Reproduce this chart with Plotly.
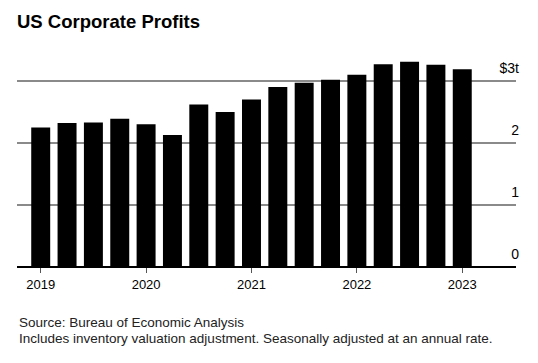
import plotly.graph_objects as go

quarters = ["2019Q1", "2019Q2", "2019Q3", "2019Q4",
            "2020Q1", "2020Q2", "2020Q3", "2020Q4",
            "2021Q1", "2021Q2", "2021Q3", "2021Q4",
            "2022Q1", "2022Q2", "2022Q3", "2022Q4",
            "2023Q1"]
profits_trillions = [2.25, 2.32, 2.33, 2.39, 2.30, 2.13, 2.62, 2.50, 2.70,
                     2.90, 2.97, 3.02, 3.10, 3.27, 3.31, 3.26, 3.19]
year_tick_vals = ["2019Q1", "2020Q1", "2021Q1", "2022Q1", "2023Q1"]
year_tick_text = ["2019", "2020", "2021", "2022", "2023"]
y_tick_vals = [0, 1, 2, 3]
y_tick_text = ["0", "1", "2", "$3t"]

W, H = 538, 363
L, R, T, B = 17, 22, 53, 96
FONT = "Liberation Sans, Arial, sans-serif"

fig = go.Figure()
fig.add_trace(go.Bar(
    x=quarters, y=profits_trillions,
    marker=dict(color="#000000", line=dict(width=0)),
    width=0.72,
    hoverinfo="x+y",
))

fig.update_layout(
    width=W, height=H,
    margin=dict(l=L, r=R, t=T, b=B, pad=0),
    paper_bgcolor="white", plot_bgcolor="white",
    showlegend=False,
    font=dict(family=FONT, size=13, color="#000000"),
    title=dict(text="<b>US Corporate Profits</b>", xref="container", x=L / W,
               xanchor="left", yref="container", y=1 - 22 / H, yanchor="middle",
               font=dict(family=FONT, size=18.5, color="#000000")),
    xaxis=dict(
        type="category", categoryorder="array", categoryarray=quarters,
        range=[-0.9, 18.04],
        tickmode="array", tickvals=year_tick_vals, ticktext=year_tick_text,
        ticks="outside", ticklen=5, tickwidth=1, tickcolor="#555555",
        showgrid=False, showline=False, zeroline=False,
        tickfont=dict(family=FONT, size=13, color="#000000"),
    ),
    yaxis=dict(
        range=[0, 3.45], side="right",
        tickmode="array", tickvals=y_tick_vals, ticktext=y_tick_text,
        ticklabelposition="inside top", ticklabelstandoff=-6,
        ticklabelshift=-3,
        ticks="", showgrid=True, gridcolor="#8a8a8a", gridwidth=1.5,
        zeroline=True, zerolinecolor="#000000", zerolinewidth=1.5,
        showline=False,
        tickfont=dict(family=FONT, size=14, color="#000000"),
    ),
    bargap=0.28,
)

fig.add_annotation(
    text="Source: Bureau of Economic Analysis",
    xref="paper", yref="paper", x=0, y=(267 - 322) / (H - T - B),
    xanchor="left", yanchor="middle", showarrow=False,
    font=dict(family=FONT, size=13.5, color="#222222"),
)
fig.add_annotation(
    text="Includes inventory valuation adjustment. Seasonally adjusted at an annual rate.",
    xref="paper", yref="paper", x=0, y=(267 - 338) / (H - T - B),
    xanchor="left", yanchor="middle", showarrow=False,
    font=dict(family=FONT, size=13.5, color="#222222"),
)

fig.write_html("out.html", config={"displayModeBar": False},
               post_script="document.body.style.margin='0';")
